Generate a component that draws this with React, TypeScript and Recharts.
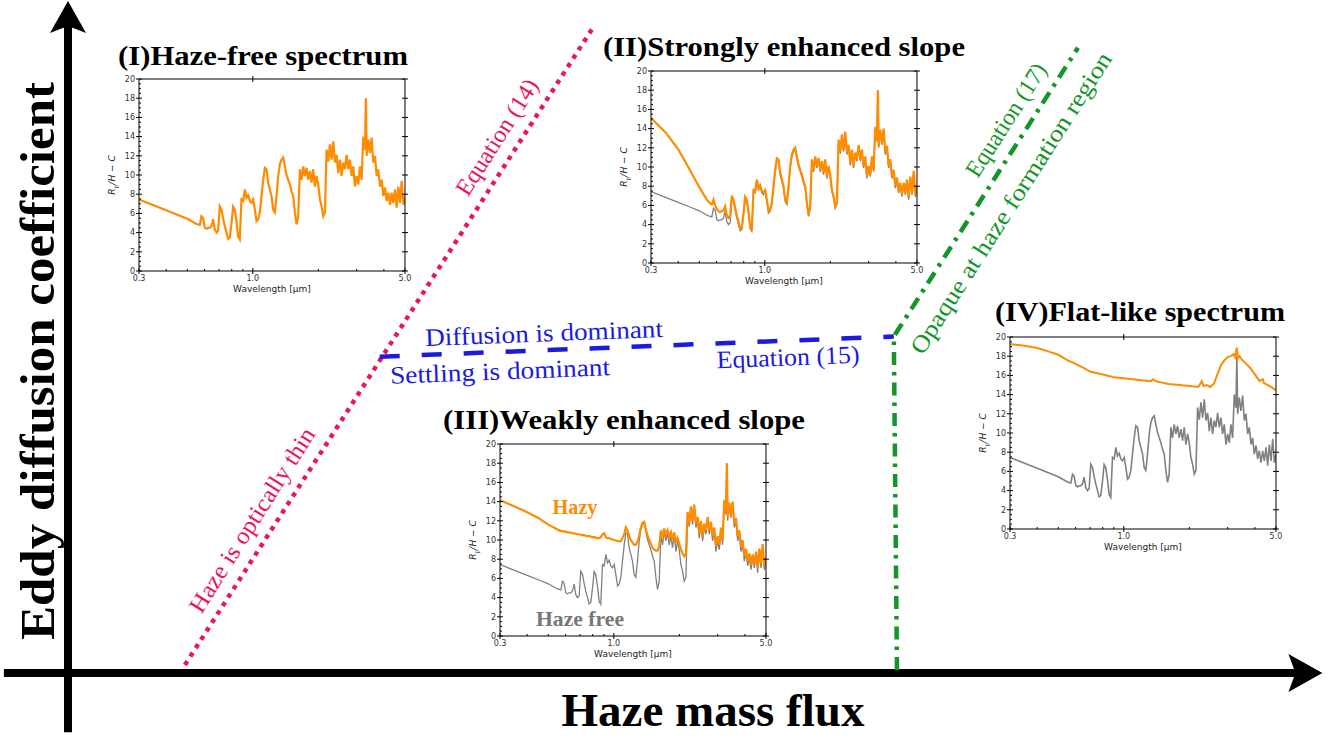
import { ComposedChart, LineChart, Line, XAxis, YAxis, ReferenceDot } from "recharts";

// wavelength grid [um] shared by the spectra
const wavelength = [
  0.3, 0.35, 0.4, 0.45, 0.5, 0.541, 0.551, 0.561, 0.571, 0.581,
  0.591, 0.602, 0.612, 0.623, 0.634, 0.646, 0.657, 0.669, 0.681, 0.693,
  0.705, 0.718, 0.73, 0.743, 0.757, 0.77, 0.784, 0.798, 0.812, 0.826,
  0.841, 0.856, 0.871, 0.887, 0.903, 0.919, 0.935, 0.952, 0.969, 0.986,
  1.004, 1.022, 1.04, 1.058, 1.077, 1.096, 1.116, 1.136, 1.156, 1.176,
  1.197, 1.219, 1.24, 1.262, 1.285, 1.308, 1.331, 1.355, 1.379, 1.403,
  1.428, 1.454, 1.48, 1.506, 1.533, 1.56, 1.588, 1.616, 1.645, 1.674,
  1.704, 1.734, 1.765, 1.797, 1.829, 1.861, 1.894, 1.928, 1.963, 1.997,
  2.033, 2.069, 2.106, 2.144, 2.182, 2.221, 2.26, 2.3, 2.341, 2.383,
  2.426, 2.469, 2.513, 2.557, 2.603, 2.649, 2.697, 2.745, 2.793, 2.843,
  2.894, 2.945, 2.998, 3.051, 3.105, 3.161, 3.217, 3.274, 3.305, 3.333,
  3.392, 3.452, 3.514, 3.576, 3.64, 3.705, 3.771, 3.838, 3.906, 3.976,
  4.047, 4.119, 4.192, 4.267, 4.343, 4.42, 4.499, 4.579, 4.661, 4.744,
  4.828, 4.914, 5.0,
];

// haze-free spectrum (Rp/H - C)
const hazeFree = [
  7.45, 6.84, 6.32, 5.86, 5.44, 5.0, 4.9, 4.85, 4.8, 5.7,
  5.5, 4.5, 4.4, 4.5, 4.5, 4.7, 5.4, 4.3, 4.0, 4.2,
  6.75, 6.4, 5.5, 4.7, 4.0, 3.35, 3.5, 5.0, 6.7, 6.4,
  5.2, 3.6, 3.3, 7.45, 7.3, 8.5, 7.6, 7.9, 7.3, 7.1,
  7.45, 6.4, 5.2, 5.4, 6.1, 7.8, 9.5, 10.75, 10.6, 9.2,
  8.5, 7.8, 6.4, 6.1, 7.8, 9.9, 11.1, 11.6, 11.8, 10.9,
  10.05, 9.5, 9.0, 8.3, 7.8, 6.1, 4.85, 5.7, 10.6, 9.5,
  10.9, 9.9, 10.75, 9.5, 10.4, 9.2, 10.6, 8.8, 9.9, 9.0,
  7.45, 6.75, 5.7, 6.1, 12.65, 11.4, 13.2, 11.6, 13.5, 11.3,
  12.1, 10.2, 11.6, 9.9, 11.3, 10.6, 12.1, 10.6, 11.6, 9.9,
  10.9, 8.8, 9.9, 9.0, 10.9, 9.5, 14.0, 12.65, 18.0, 12.0,
  13.7, 12.3, 13.9, 11.3, 12.0, 9.9, 10.6, 8.8, 9.5, 7.8,
  8.7, 7.3, 8.15, 6.9, 8.15, 7.1, 8.5, 6.6, 8.8, 7.1,
  9.4, 6.9, 7.8,
];

// (II) strongly enhanced slope
const hazyII = [
  15.1, 13.6, 11.85, 9.8, 7.9, 6.6, 6.4, 6.2, 6.1, 6.6,
  6.0, 5.6, 5.4, 5.3, 5.4, 5.5, 5.9, 5.0, 4.7, 4.9,
  7.0, 6.6, 5.8, 5.0, 4.3, 3.6, 3.7, 5.2, 6.9, 6.6,
  5.4, 3.8, 3.4, 7.6, 7.5, 8.7, 7.8, 8.1, 7.5, 7.3,
  7.6, 6.6, 5.4, 5.6, 6.3, 8.0, 9.7, 10.9, 10.8, 9.4,
  8.7, 8.0, 6.6, 6.3, 8.0, 10.1, 11.3, 11.8, 12.0, 11.1,
  10.25, 9.7, 9.2, 8.5, 8.0, 6.3, 5.0, 5.9, 10.8, 9.7,
  11.1, 10.1, 10.95, 9.7, 10.6, 9.4, 10.8, 9.0, 10.1, 9.2,
  7.65, 6.95, 5.9, 6.3, 12.85, 11.6, 13.4, 11.8, 13.7, 11.5,
  12.3, 10.4, 11.8, 10.1, 11.5, 10.8, 12.3, 10.8, 11.8, 10.1,
  11.1, 9.0, 10.1, 9.2, 11.1, 9.7, 14.2, 12.85, 18.0, 12.2,
  13.9, 12.5, 14.0, 11.5, 12.2, 10.1, 10.8, 9.0, 9.7, 8.0,
  8.9, 7.5, 8.35, 7.1, 8.35, 7.3, 8.7, 6.8, 9.0, 7.3,
  9.6, 7.1, 8.0,
];

// (III) weakly enhanced slope
const hazyIII = [
  14.15, 13.5, 12.9, 12.3, 11.6, 11.2, 11.1, 11.0, 10.95, 10.9,
  10.9, 10.85, 10.8, 10.8, 10.75, 10.7, 10.7, 10.65, 10.6, 10.6,
  10.55, 10.5, 10.5, 10.45, 10.4, 10.4, 10.35, 10.3, 10.3, 10.25,
  10.2, 10.2, 10.3, 10.6, 10.7, 10.3, 10.2, 10.2, 10.1, 10.05,
  10.0, 9.95, 9.9, 9.85, 9.9, 10.2, 10.6, 11.3, 11.0, 10.4,
  10.0, 9.7, 9.5, 9.5, 9.8, 10.5, 11.3, 11.8, 11.9, 11.1,
  10.5, 10.0, 9.6, 9.2, 9.0, 8.9, 8.9, 9.4, 11.0, 10.3,
  11.2, 10.5, 11.0, 10.3, 10.8, 10.0, 10.8, 9.7, 10.2, 9.6,
  9.0, 8.6, 8.3, 8.6, 12.9, 11.8, 13.5, 12.0, 13.7, 11.7,
  12.4, 10.7, 12.0, 10.4, 11.7, 11.0, 12.4, 11.0, 11.9, 10.4,
  11.3, 9.4, 10.4, 9.5, 11.3, 10.0, 14.2, 13.0, 18.0, 12.4,
  13.9, 12.6, 14.0, 11.7, 12.3, 10.4, 11.0, 9.3, 10.0, 8.3,
  9.1, 7.8, 8.6, 7.4, 8.5, 7.5, 8.8, 7.1, 9.1, 7.5,
  9.6, 7.3, 8.1,
];

// (IV) flat-like spectrum, own coarser grid
const flatWavelength = [
  0.3, 0.35, 0.4, 0.45, 0.5, 0.55, 0.6, 0.65, 0.7, 0.8,
  0.9, 1.0, 1.2, 1.33, 1.36, 1.4, 1.6, 1.8, 2.0, 2.2,
  2.28, 2.32, 2.4, 2.5, 2.6, 2.7, 2.8, 2.9, 3.0, 3.1,
  3.2, 3.25, 3.3, 3.35, 3.4, 3.5, 3.65, 3.8, 4.0, 4.2,
  4.35, 4.4, 4.5, 4.7, 5.0,
];
const hazyIV = [
  19.27, 19.1, 18.85, 18.5, 18.15, 17.6, 17.2, 16.8, 16.4, 16.1,
  15.8, 15.7, 15.5, 15.4, 15.6, 15.4, 15.1, 15.0, 14.9, 14.8,
  15.4, 14.9, 15.0, 14.8, 15.2, 16.2, 17.1, 17.6, 17.9, 18.0,
  18.2, 17.9, 18.9, 17.8, 18.0, 17.6, 17.2, 16.8, 16.1, 15.4,
  15.6, 15.2, 15.1, 14.85, 14.45,
];

const xMajorTicks = [0.3, 1.0, 5.0];
const xMinorTicks = [0.4, 0.5, 0.6, 0.7, 0.8, 0.9, 2, 3, 4];
const yMajorTicks = [0, 2, 4, 6, 8, 10, 12, 14, 16, 18, 20];
const yMinorTicks = [
  0.5, 1, 1.5, 2.5, 3, 3.5, 4.5, 5, 5.5, 6.5, 7, 7.5, 8.5, 9, 9.5,
  10.5, 11, 11.5, 12.5, 13, 13.5, 14.5, 15, 15.5, 16.5, 17, 17.5,
  18.5, 19, 19.5,
];

// regime diagram, arbitrary units of haze mass flux (x) and eddy diffusion (y)
const fluxAxis = [{ x: -5.1, y: 0 }, { x: 98, y: 0 }];
const eddyAxis = [{ x: 0, y: -8.8 }, { x: 0, y: 97 }];
const eq14Line = [{ x: 9.3, y: 1.2 }, { x: 41.8, y: 96 }];
const eq15Line = [{ x: 24.8, y: 47 }, { x: 65.7, y: 50 }];
const eq17Line = [{ x: 65.95, y: 0.45 }, { x: 65.7, y: 50 }, { x: 80.35, y: 92.9 }];

const ORANGE = "#ff8c00";
const GRAY = "#808080";
const PINK = "#e8175d";
const BLUE = "#1a1ae0";
const GREEN = "#13952a";

const rows = wavelength.map((w, i) => ({
  w,
  free: hazeFree[i],
  ii: hazyII[i],
  iii: hazyIII[i],
}));
const flatRows = flatWavelength.map((w, i) => ({ w, v: hazyIV[i] }));

type Trace = { key: string; color: string; width: number; data?: any[] };

const blank = () => "";
const tickText = { fontSize: 8, fill: "#333", fontFamily: "DejaVu Sans" };
const black = { stroke: "#000" };
const THIN = 0.01; // axes that only carry tick marks

function Spectrum({ left, top, traces }: { left: number; top: number; traces: Trace[] }) {
  const xCommon = {
    dataKey: "w",
    type: "number" as const,
    scale: "log" as const,
    domain: [0.3, 5],
    allowDataOverflow: true,
    interval: 0 as const,
    tickLine: black,
  };
  const yCommon = {
    type: "number" as const,
    domain: [0, 20],
    allowDataOverflow: true,
    interval: 0 as const,
    tickLine: black,
  };
  return (
    <div style={{ position: "absolute", left, top, width: 310, height: 231 }}>
      <LineChart width={310} height={231} data={rows} margin={{ top: 9, right: 10, left: 10, bottom: 0 }}>
        <XAxis xAxisId="b" {...xCommon} ticks={xMajorTicks} tickFormatter={(v: number) => v.toFixed(1)} tickSize={3} tickMargin={1} height={30} axisLine={black} tick={tickText} />
        <XAxis xAxisId="bi" {...xCommon} mirror ticks={xMajorTicks} tickFormatter={blank} tickSize={3} height={THIN} axisLine={false} />
        <XAxis xAxisId="bm" {...xCommon} mirror ticks={xMinorTicks} tickFormatter={blank} tickSize={2} height={THIN} axisLine={false} />
        <XAxis xAxisId="t" {...xCommon} orientation="top" ticks={[1]} tickFormatter={blank} tickSize={3} height={THIN} axisLine={black} />
        <XAxis xAxisId="ti" {...xCommon} orientation="top" mirror ticks={[1]} tickFormatter={blank} tickSize={3} height={THIN} axisLine={false} />
        <YAxis yAxisId="l" {...yCommon} ticks={yMajorTicks} tickSize={3} tickMargin={1} width={24} axisLine={black} tick={tickText} />
        <YAxis yAxisId="li" {...yCommon} mirror ticks={yMajorTicks} tickFormatter={blank} tickSize={3} width={THIN} axisLine={false} />
        <YAxis yAxisId="lm" {...yCommon} mirror ticks={yMinorTicks} tickFormatter={blank} tickSize={2} width={THIN} axisLine={false} />
        <YAxis yAxisId="r" {...yCommon} orientation="right" ticks={yMajorTicks} tickFormatter={blank} tickSize={3} width={THIN} axisLine={black} />
        <YAxis yAxisId="ri" {...yCommon} orientation="right" mirror ticks={yMajorTicks} tickFormatter={blank} tickSize={3} width={THIN} axisLine={false} />
        {traces.map((t) => (
          <Line
            key={t.key}
            xAxisId="b"
            yAxisId="l"
            data={t.data}
            dataKey={t.key}
            type="linear"
            stroke={t.color}
            strokeWidth={t.width}
            dot={false}
            activeDot={false}
            isAnimationActive={false}
          />
        ))}
      </LineChart>
      <div
        style={{
          position: "absolute",
          left: 34,
          width: 266,
          top: 214,
          textAlign: "center",
          fontFamily: "DejaVu Sans",
          fontSize: 9,
          color: "#222",
        }}
      >
        Wavelength [μm]
      </div>
      <div
        style={{
          position: "absolute",
          left: 8,
          top: 105,
          transform: "translate(-50%, -50%) rotate(-90deg)",
          whiteSpace: "nowrap",
          fontFamily: "DejaVu Sans",
          fontSize: 9,
          color: "#222",
        }}
      >
        <i>R</i>
        <sub style={{ fontSize: 6 }}>p</sub>
        <i>/H</i> − <i>C</i>
      </div>
    </div>
  );
}

function Caption(props: {
  x: number;
  y: number;
  angle?: number;
  size: number;
  color: string;
  bold?: boolean;
  len: number;
  children: string;
}) {
  const { x, y, angle = 0, size, color, bold, len, children } = props;
  return (
    <text
      x={x}
      y={y}
      transform={`rotate(${angle} ${x} ${y})`}
      textAnchor="middle"
      dominantBaseline="central"
      fontFamily="Liberation Serif"
      fontSize={size}
      fontWeight={bold ? "bold" : "normal"}
      fill={color}
      textLength={len}
      lengthAdjust="spacingAndGlyphs"
    >
      {children}
    </text>
  );
}

const arrowRight = (p: any) => (
  <polygon
    points={`${p.cx},${p.cy} ${p.cx - 34},${p.cy - 19} ${p.cx - 27},${p.cy} ${p.cx - 34},${p.cy + 19}`}
    fill="#000"
  />
);
const arrowUp = (p: any) => (
  <polygon
    points={`${p.cx},${p.cy} ${p.cx - 18},${p.cy + 32} ${p.cx},${p.cy + 25} ${p.cx + 18},${p.cy + 32}`}
    fill="#000"
  />
);

export default function App() {
  return (
    <div style={{ position: "absolute", left: 0, top: 0, width: 1335, height: 736, background: "#fff" }}>
      <ComposedChart width={1335} height={736} margin={{ top: 0, right: 0, bottom: 0, left: 0 }}>
        <XAxis dataKey="x" type="number" domain={[-5.41, 100.8]} allowDataOverflow hide />
        <YAxis dataKey="y" type="number" domain={[-9.36, 100]} allowDataOverflow hide />
        <Line data={fluxAxis} dataKey="y" stroke="#000" strokeWidth={8} dot={false} activeDot={false} isAnimationActive={false} />
        <Line data={eddyAxis} dataKey="y" stroke="#000" strokeWidth={8} dot={false} activeDot={false} isAnimationActive={false} />
        <Line data={eq14Line} dataKey="y" stroke={PINK} strokeWidth={4.5} strokeDasharray="4.5 5.5" dot={false} activeDot={false} isAnimationActive={false} />
        <Line data={eq15Line} dataKey="y" stroke={BLUE} strokeWidth={4.5} strokeDasharray="20 22" dot={false} activeDot={false} isAnimationActive={false} />
        <Line data={eq17Line} dataKey="y" stroke={GREEN} strokeWidth={4.5} strokeDasharray="13 7 3.5 7" dot={false} activeDot={false} isAnimationActive={false} />
        <ReferenceDot x={99.8} y={0} r={1} shape={arrowRight} ifOverflow="visible" />
        <ReferenceDot x={0} y={99.85} r={1} shape={arrowUp} ifOverflow="visible" />
      </ComposedChart>

      <Spectrum left={105} top={70} traces={[{ key: "free", color: ORANGE, width: 2.2 }]} />
      <Spectrum
        left={617}
        top={62}
        traces={[
          { key: "free", color: GRAY, width: 1.3 },
          { key: "ii", color: ORANGE, width: 2.2 },
        ]}
      />
      <Spectrum
        left={466}
        top={435}
        traces={[
          { key: "free", color: GRAY, width: 1.3 },
          { key: "iii", color: ORANGE, width: 2.2 },
        ]}
      />
      <Spectrum
        left={976}
        top={328}
        traces={[
          { key: "free", color: GRAY, width: 1.6 },
          { key: "v", color: ORANGE, width: 2.0, data: flatRows },
        ]}
      />

      <svg width={1335} height={736} style={{ position: "absolute", left: 0, top: 0, pointerEvents: "none" }}>
        <Caption x={263} y={55} size={28} color="#000" bold len={290}>(I)Haze-free spectrum</Caption>
        <Caption x={784} y={46} size={28} color="#000" bold len={362}>(II)Strongly enhanced slope</Caption>
        <Caption x={624} y={419} size={28} color="#000" bold len={362}>(III)Weakly enhanced slope</Caption>
        <Caption x={1140} y={311} size={28} color="#000" bold len={290}>(IV)Flat-like spectrum</Caption>

        <Caption x={713} y={710} size={47} color="#000" bold len={303}>Haze mass flux</Caption>
        <Caption x={37} y={361} angle={-90} size={48} color="#000" bold len={558}>Eddy diffusion coefficient</Caption>

        <Caption x={497} y={137} angle={-57.6} size={24} color={PINK} len={133}>Equation (14)</Caption>
        <Caption x={252} y={520} angle={-57.6} size={24} color={PINK} len={214}>Haze is optically thin</Caption>

        <Caption x={1006} y={120} angle={-57.4} size={24} color={GREEN} len={130}>Equation (17)</Caption>
        <Caption x={1011} y={203} angle={-57.4} size={24} color={GREEN} len={353}>Opaque at haze formation region</Caption>

        <Caption x={544} y={333} angle={-2.2} size={25} color={BLUE} len={238}>Diffusion is dominant</Caption>
        <Caption x={500} y={371} angle={-2.2} size={25} color={BLUE} len={220}>Settling is dominant</Caption>
        <Caption x={788} y={357} angle={-2.2} size={25} color={BLUE} len={143}>Equation (15)</Caption>

        <Caption x={575} y={507} size={21} color={ORANGE} bold len={45}>Hazy</Caption>
        <Caption x={580} y={619} size={21} color="#777" bold len={88}>Haze free</Caption>
      </svg>
    </div>
  );
}
